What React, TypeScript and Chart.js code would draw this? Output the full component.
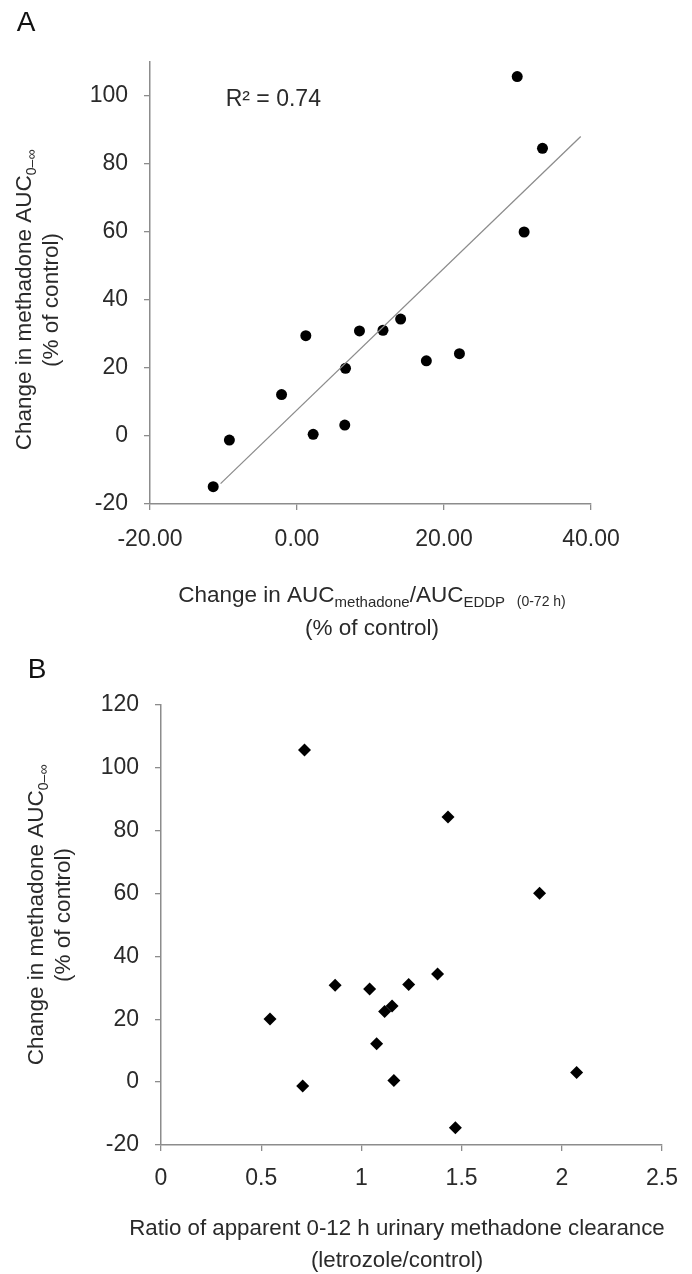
import React, { useEffect, useRef } from "react";
import { Chart, registerables } from "chart.js";

Chart.register(...registerables);

const FAMILY = '"Liberation Sans", Arial, Helvetica, sans-serif';
const TEXT = "#2a2a2a";
const AXIS = "#8c8c8c";

// Panel A: change in AUC ratio (x) vs change in methadone AUC (y)
const aX = [29.96, 33.4, 30.9, -11.4, -9.2, -2.1, 1.2, 2.2, 6.6, 6.5, 8.5, 11.7, 14.1, 17.6, 22.1];
const aY = [105.7, 84.6, 60.0, -14.9, -1.2, 12.2, 29.5, 0.5, 19.9, 3.2, 30.9, 31.1, 34.4, 22.1, 24.2];
// Trend line endpoints (as drawn in the figure)
const aTrendX = [-10.4, 38.6];
const aTrendY = [-14.0, 88.1];
const aXTicks = [-20, 0, 20, 40];
const aYTicks = [-20, 0, 20, 40, 60, 80, 100];
const aR2 = "R² = 0.74";

// Panel B: urinary clearance ratio (x) vs change in methadone AUC (y)
const bX = [0.716, 1.432, 1.889, 1.38, 0.869, 1.236, 1.041, 1.153, 1.116, 0.544, 1.076, 2.074, 1.162, 0.707, 1.469];
const bY = [105.7, 84.4, 60.1, 34.4, 30.8, 31.1, 29.6, 24.2, 22.5, 20.1, 12.2, 3.1, 0.5, -1.2, -14.5];
const bXTicks = [0, 0.5, 1, 1.5, 2, 2.5];
const bYTicks = [-20, 0, 20, 40, 60, 80, 100, 120];

type Seg = { t: string; size: number; dy?: number };

function drawRich(ctx: CanvasRenderingContext2D, segs: Seg[], cx: number, baseline: number) {
  let total = 0;
  const widths: number[] = [];
  for (const s of segs) {
    ctx.font = `${s.size}px ${FAMILY}`;
    const w = ctx.measureText(s.t).width;
    widths.push(w);
    total += w;
  }
  let x = cx - total / 2;
  ctx.textAlign = "left";
  ctx.textBaseline = "alphabetic";
  segs.forEach((s, i) => {
    ctx.font = `${s.size}px ${FAMILY}`;
    ctx.fillText(s.t, x, baseline + (s.dy || 0));
    x += widths[i];
  });
}

type TitleSpec = {
  letter: { t: string; x: number; y: number };
  yLines: { segs: Seg[]; x: number }[];
  yCenter: number;
  xLines: { segs: Seg[]; y: number }[];
  xCenter: number;
  extra?: (chart: any, ctx: CanvasRenderingContext2D) => void;
};

function titlesPlugin(spec: TitleSpec) {
  return {
    id: "customTitles",
    afterDraw(chart: any) {
      const ctx: CanvasRenderingContext2D = chart.ctx;
      ctx.save();
      ctx.font = `28px ${FAMILY}`;
      ctx.fillStyle = "#111";
      ctx.textAlign = "center";
      ctx.textBaseline = "middle";
      ctx.fillText(spec.letter.t, spec.letter.x, spec.letter.y);
      ctx.fillStyle = TEXT;
      for (const line of spec.yLines) {
        ctx.save();
        ctx.translate(line.x, spec.yCenter);
        ctx.rotate(-Math.PI / 2);
        drawRich(ctx, line.segs, 0, 8);
        ctx.restore();
      }
      for (const line of spec.xLines) {
        drawRich(ctx, line.segs, spec.xCenter, line.y + 8);
      }
      if (spec.extra) spec.extra(chart, ctx);
      ctx.restore();
    },
  };
}

function axisCommon(tickLen: number, pad: number) {
  return {
    grid: {
      display: true,
      drawOnChartArea: false,
      drawTicks: true,
      tickLength: tickLen,
      color: AXIS,
      lineWidth: 1.3,
    },
    border: { display: true, color: AXIS, width: 1.5 },
    ticks: {
      color: TEXT,
      font: { size: 23, family: FAMILY },
      padding: pad,
      maxRotation: 0,
      autoSkip: false,
    },
  };
}

function ChartA() {
  const ref = useRef<HTMLCanvasElement>(null);
  useEffect(() => {
    const canvas = ref.current!;
    const plugin = titlesPlugin({
      letter: { t: "A", x: 26, y: 23 },
      yCenter: 300,
      yLines: [
        { x: 23, segs: [{ t: "Change in methadone AUC", size: 22.5 }, { t: "0–∞", size: 14, dy: 5 }] },
        { x: 50, segs: [{ t: "(% of control)", size: 22.5 }] },
      ],
      xCenter: 372,
      xLines: [
        {
          y: 594,
          segs: [
            { t: "Change in AUC", size: 22.5 },
            { t: "methadone", size: 15, dy: 5 },
            { t: "/AUC", size: 22.5 },
            { t: "EDDP", size: 15, dy: 5 },
            { t: "   (0-72 h)", size: 14, dy: 4 },
          ],
        },
        { y: 627, segs: [{ t: "(% of control)", size: 22.5 }] },
      ],
      extra: (chart, ctx) => {
        const xs = chart.scales.x;
        const ys = chart.scales.y;
        ctx.font = `23px ${FAMILY}`;
        ctx.textAlign = "left";
        ctx.textBaseline = "middle";
        ctx.fillStyle = TEXT;
        ctx.fillText(aR2, xs.getPixelForValue(-9.7), ys.getPixelForValue(99));
      },
    });
    const chart = new Chart(canvas, {
      type: "scatter",
      data: {
        datasets: [
          {
            type: "line",
            data: aTrendX.map((x, i) => ({ x, y: aTrendY[i] })),
            borderColor: AXIS,
            borderWidth: 1.3,
            pointRadius: 0,
            showLine: true,
            fill: false,
          } as any,
          {
            data: aX.map((x, i) => ({ x, y: aY[i] })),
            pointRadius: 5.5,
            pointBackgroundColor: "#000",
            pointBorderWidth: 0,
            pointStyle: "circle",
          },
        ],
      },
      options: {
        responsive: false,
        animation: false,
        events: [],
        layout: { padding: { left: 0, top: 62, right: 101, bottom: 0 } },
        plugins: { legend: { display: false }, tooltip: { enabled: false } },
        scales: {
          x: {
            type: "linear",
            min: -20,
            max: 40,
            afterFit: (s: any) => { s.height = 660 - 504; },
            afterBuildTicks: (s: any) => { s.ticks = aXTicks.map((v) => ({ value: v })); },
            ...axisCommon(6, 16),
            ticks: { ...axisCommon(6, 16).ticks, callback: (v: any) => Number(v).toFixed(2) },
          },
          y: {
            type: "linear",
            min: -20,
            max: 110,
            afterFit: (s: any) => { s.width = 150; },
            afterBuildTicks: (s: any) => { s.ticks = aYTicks.map((v) => ({ value: v })); },
            ...axisCommon(6, 16),
          },
        },
      } as any,
      plugins: [plugin],
    });
    return () => chart.destroy();
  }, []);
  return (
    <canvas
      ref={ref}
      width={692}
      height={660}
      style={{ position: "absolute", left: 0, top: 0, width: 692, height: 660 }}
    />
  );
}

function ChartB() {
  const ref = useRef<HTMLCanvasElement>(null);
  useEffect(() => {
    const canvas = ref.current!;
    const plugin = titlesPlugin({
      letter: { t: "B", x: 37, y: 30 },
      yCenter: 275,
      yLines: [
        { x: 35, segs: [{ t: "Change in methadone AUC", size: 22.5 }, { t: "0–∞", size: 14, dy: 5 }] },
        { x: 62, segs: [{ t: "(% of control)", size: 22.5 }] },
      ],
      xCenter: 397,
      xLines: [
        { y: 587, segs: [{ t: "Ratio of apparent 0-12 h urinary methadone clearance", size: 22.3 }] },
        { y: 619, segs: [{ t: "(letrozole/control)", size: 22.3 }] },
      ],
    });
    const chart = new Chart(canvas, {
      type: "scatter",
      data: {
        datasets: [
          {
            data: bX.map((x, i) => ({ x, y: bY[i] })),
            pointRadius: 6.5,
            pointBackgroundColor: "#000",
            pointBorderWidth: 0,
            pointStyle: "rectRot",
          },
        ],
      },
      options: {
        responsive: false,
        animation: false,
        events: [],
        layout: { padding: { left: 0, top: 65, right: 26, bottom: 0 } },
        plugins: { legend: { display: false }, tooltip: { enabled: false } },
        scales: {
          x: {
            type: "linear",
            min: 0,
            max: 2.5,
            afterFit: (s: any) => { s.height = 634 - 505; },
            afterBuildTicks: (s: any) => { s.ticks = bXTicks.map((v) => ({ value: v })); },
            ...axisCommon(6, 14),
            ticks: { ...axisCommon(6, 14).ticks, callback: (v: any) => String(v) },
          },
          y: {
            type: "linear",
            min: -20,
            max: 120,
            afterFit: (s: any) => { s.width = 161; },
            afterBuildTicks: (s: any) => { s.ticks = bYTicks.map((v) => ({ value: v })); },
            ...axisCommon(6, 16),
          },
        },
      } as any,
      plugins: [plugin],
    });
    return () => chart.destroy();
  }, []);
  return (
    <canvas
      ref={ref}
      width={692}
      height={634}
      style={{ position: "absolute", left: 0, top: 640, width: 692, height: 634 }}
    />
  );
}

export default function App() {
  return (
    <div style={{ position: "absolute", left: 0, top: 0, width: 692, height: 1274, background: "#fff" }}>
      <ChartB />
      <ChartA />
    </div>
  );
}
